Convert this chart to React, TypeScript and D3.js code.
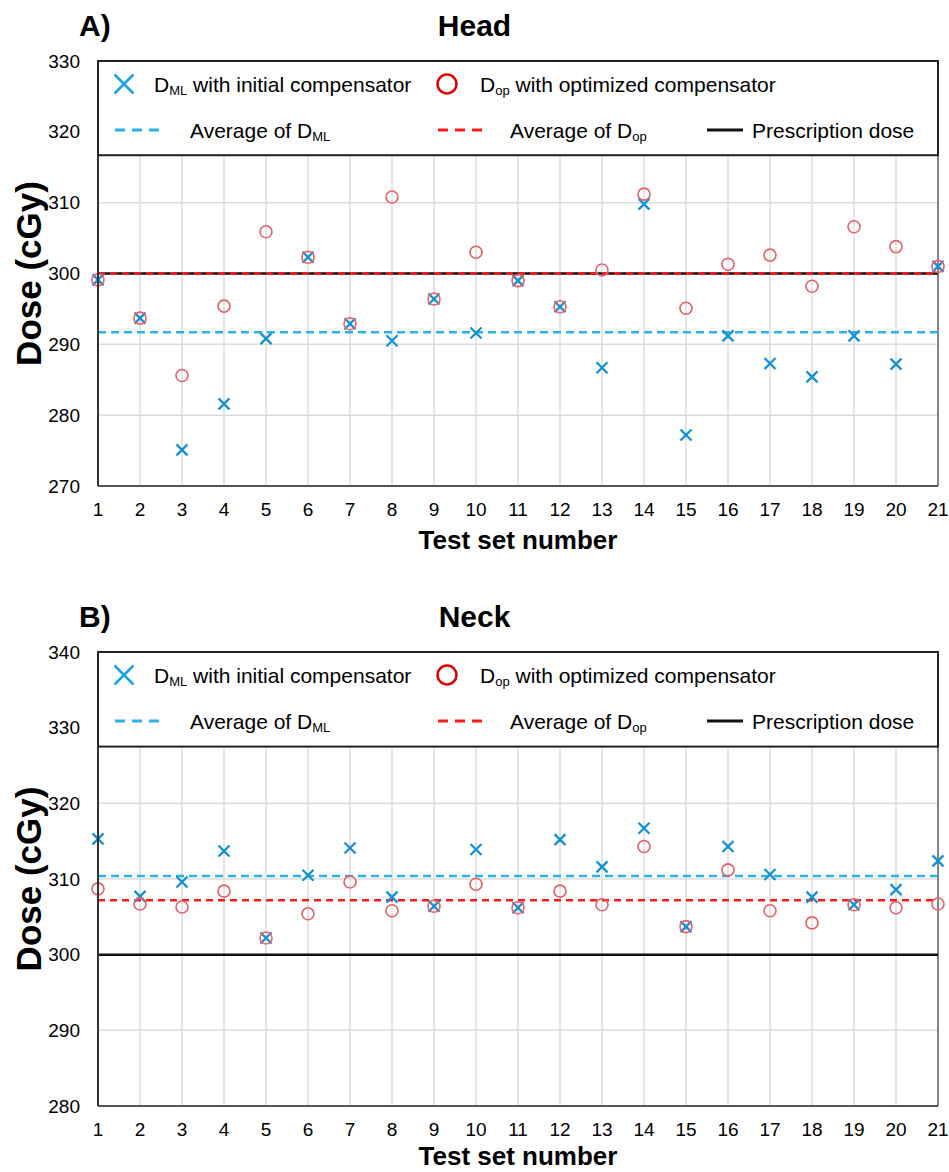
import React from "react";
import * as d3 from "d3";

const testSets = d3.range(1, 22);

const headDML = [299.1, 293.7, 275.1, 281.6, 290.8, 302.3, 292.9, 290.5, 296.4, 291.6, 299.0, 295.3, 286.7, 309.8, 277.2, 291.2, 287.3, 285.4, 291.2, 287.2, 301.0];
const headDop = [299.1, 293.7, 285.6, 295.4, 305.9, 302.3, 292.9, 310.8, 296.4, 303.0, 299.0, 295.3, 300.5, 311.2, 295.1, 301.3, 302.6, 298.2, 306.6, 303.8, 301.0];
const neckDML = [315.3, 307.7, 309.6, 313.7, 302.2, 310.5, 314.1, 307.6, 306.4, 313.9, 306.2, 315.2, 311.6, 316.7, 303.7, 314.3, 310.6, 307.6, 306.6, 308.6, 312.4];
const neckDop = [308.7, 306.7, 306.3, 308.4, 302.2, 305.4, 309.6, 305.8, 306.4, 309.3, 306.2, 308.4, 306.6, 314.3, 303.7, 311.2, 305.8, 304.2, 306.6, 306.2, 306.7];

const headAverages = [291.7, 300.0]; // [avg DML, avg Dop]
const neckAverages = [310.4, 307.2];
const prescriptionDose = 300;

const headTicks = [270, 280, 290, 300, 310, 320, 330];
const neckTicks = [280, 290, 300, 310, 320, 330, 340];

const FONT = "'Liberation Sans', Arial, sans-serif";
const C_X = "#1592d0";
const C_X_LEG = "#1aa3e2";
const C_O = "#e4606b";
const C_O_LEG = "#e00000";
const C_AVG_ML = "#2ab4e6";
const C_AVG_OP = "#ff1a1a";
const GRID = "#dcdcdc";

type PanelProps = {
  letter: string;
  title: string;
  dml: number[];
  dop: number[];
  avgs: number[];
  ticks: number[];
  legendBottomVal: number;
  top: number;
  bottom: number;
  xTitleOffset: number;
};

function Cross({ x, y, r, color, w }: { x: number; y: number; r: number; color: string; w: number }) {
  return (
    <g stroke={color} strokeWidth={w}>
      <line x1={x - r} y1={y - r} x2={x + r} y2={y + r} />
      <line x1={x - r} y1={y + r} x2={x + r} y2={y - r} />
    </g>
  );
}

function Panel({ letter, title, dml, dop, avgs, ticks, legendBottomVal, top, bottom, xTitleOffset }: PanelProps) {
  const left = 98;
  const right = 938;
  const x = d3.scaleLinear().domain([1, 21]).range([left, right]);
  const y = d3.scaleLinear().domain([ticks[0], ticks[ticks.length - 1]]).range([bottom, top]);
  const legBottom = y(legendBottomVal);
  const row1 = top + 23;
  const row2 = top + 69;

  return (
    <g>
      {/* titles */}
      <text x={79} y={top - 36} fontFamily={FONT} fontWeight="bold" fontSize={30} dominantBaseline="central">
        {letter}
      </text>
      <text x={474.5} y={top - 36} fontFamily={FONT} fontWeight="bold" fontSize={30} textAnchor="middle" dominantBaseline="central">
        {title}
      </text>

      {/* grid */}
      {testSets.map((t) => (
        <line key={"vg" + t} x1={x(t)} x2={x(t)} y1={legBottom} y2={bottom} stroke={GRID} strokeWidth={1.5} />
      ))}
      {ticks.slice(1).map((v) => (
        <line key={"hg" + v} x1={left} x2={right} y1={y(v)} y2={y(v)} stroke={GRID} strokeWidth={1.5} />
      ))}

      {/* right border */}
      <line x1={right} x2={right} y1={top} y2={bottom} stroke="#666" strokeWidth={1.5} />

      {/* reference lines */}
      <line x1={left} x2={right} y1={y(prescriptionDose)} y2={y(prescriptionDose)} stroke="#111" strokeWidth={2.5} />
      <line x1={left} x2={right} y1={y(avgs[0])} y2={y(avgs[0])} stroke={C_AVG_ML} strokeWidth={2.5} strokeDasharray="8,5" />
      <line x1={left} x2={right} y1={y(avgs[1])} y2={y(avgs[1])} stroke={C_AVG_OP} strokeWidth={2.5} strokeDasharray="7,5" />

      {/* points */}
      {dml.map((v, i) => (
        <Cross key={"x" + i} x={x(testSets[i])} y={y(v)} r={5.5} color={C_X} w={2.3} />
      ))}
      {dop.map((v, i) => (
        <circle key={"o" + i} cx={x(testSets[i])} cy={y(v)} r={6} fill="none" stroke={C_O} strokeWidth={1.6} />
      ))}

      {/* axes */}
      <line x1={left} x2={right} y1={bottom} y2={bottom} stroke="#555" strokeWidth={2} />
      <line x1={left} x2={left} y1={top} y2={bottom} stroke="#333" strokeWidth={2} />

      {/* legend */}
      <rect x={left} y={top} width={right - left} height={legBottom - top} fill="#fff" stroke="#222" strokeWidth={2} />
      <Cross x={124} y={row1} r={9.5} color={C_X_LEG} w={2.5} />
      <text x={154} y={row1} fontFamily={FONT} fontSize={21} dominantBaseline="central">
        D<tspan fontSize={13} dy={6}>ML</tspan>
        <tspan dy={-6}> with initial compensator</tspan>
      </text>
      <circle cx={447} cy={row1} r={9.5} fill="none" stroke={C_O_LEG} strokeWidth={2.5} />
      <text x={480} y={row1} fontFamily={FONT} fontSize={21} dominantBaseline="central">
        D<tspan fontSize={13} dy={6}>op</tspan>
        <tspan dy={-6}> with optimized compensator</tspan>
      </text>

      <line x1={115} x2={160} y1={row2} y2={row2} stroke={C_AVG_ML} strokeWidth={3} strokeDasharray="10,7" />
      <text x={190} y={row2} fontFamily={FONT} fontSize={21} dominantBaseline="central">
        Average of D<tspan fontSize={13} dy={6}>ML</tspan>
      </text>
      <line x1={438} x2={486} y1={row2} y2={row2} stroke={C_AVG_OP} strokeWidth={3} strokeDasharray="10,7" />
      <text x={510} y={row2} fontFamily={FONT} fontSize={21} dominantBaseline="central">
        Average of D<tspan fontSize={13} dy={6}>op</tspan>
      </text>
      <line x1={707} x2={743} y1={row2} y2={row2} stroke="#111" strokeWidth={3} />
      <text x={752} y={row2} fontFamily={FONT} fontSize={21} dominantBaseline="central">
        Prescription dose
      </text>

      {/* y tick labels */}
      {ticks.map((v) => (
        <text key={"yt" + v} x={80} y={y(v)} fontFamily={FONT} fontSize={19} textAnchor="end" dominantBaseline="central">
          {v}
        </text>
      ))}
      {/* x tick labels */}
      {testSets.map((t) => (
        <text key={"xt" + t} x={x(t)} y={bottom + 23} fontFamily={FONT} fontSize={19} textAnchor="middle" dominantBaseline="central">
          {t}
        </text>
      ))}

      {/* axis titles */}
      <text x={518} y={bottom + xTitleOffset} fontFamily={FONT} fontWeight="bold" fontSize={26} textAnchor="middle" dominantBaseline="central">
        Test set number
      </text>
      <text
        transform={`translate(28,${(top + bottom) / 2}) rotate(-90)`}
        fontFamily={FONT}
        fontWeight="bold"
        fontSize={35}
        textAnchor="middle"
        dominantBaseline="central"
      >
        Dose (cGy)
      </text>
    </g>
  );
}

export default function App() {
  return (
    <svg width={949} height={1172} style={{ position: "absolute", left: 0, top: 0, background: "#fff" }}>
      <rect width={949} height={1172} fill="#fff" />
      <Panel
        letter="A)"
        title="Head"
        dml={headDML}
        dop={headDop}
        avgs={headAverages}
        ticks={headTicks}
        legendBottomVal={316.7}
        top={61}
        bottom={486}
        xTitleOffset={54}
      />
      <Panel
        letter="B)"
        title="Neck"
        dml={neckDML}
        dop={neckDop}
        avgs={neckAverages}
        ticks={neckTicks}
        legendBottomVal={327.5}
        top={652}
        bottom={1106}
        xTitleOffset={50}
      />
    </svg>
  );
}
